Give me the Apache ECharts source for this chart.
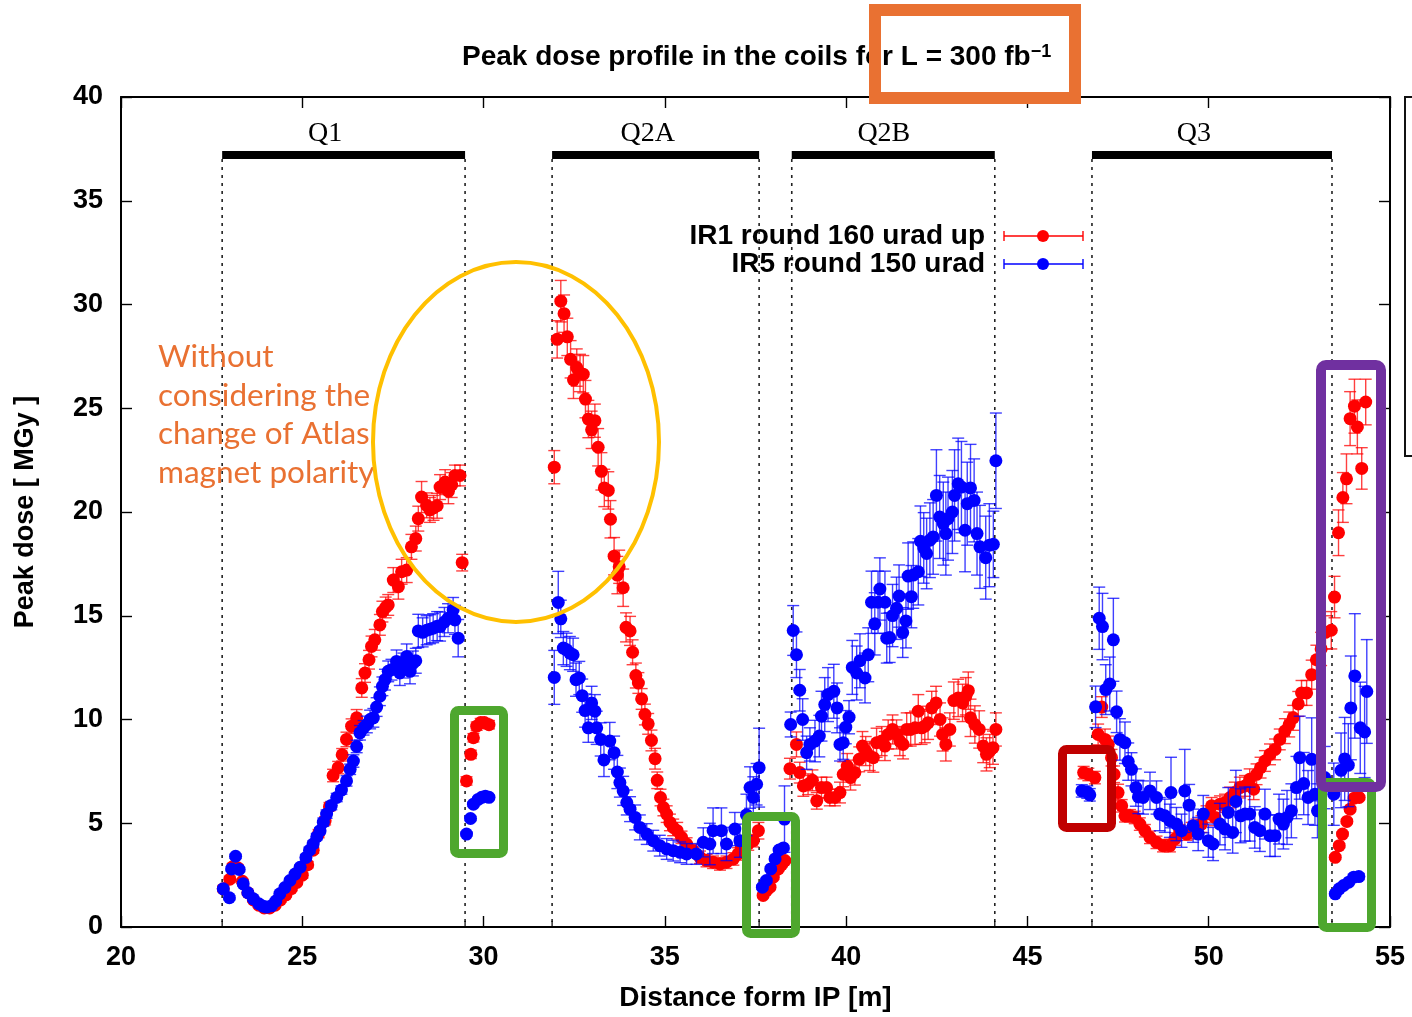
<!DOCTYPE html>
<html>
<head>
<meta charset="utf-8">
<script src="https://cdn.jsdelivr.net/npm/echarts@6/dist/echarts.min.js"></script>
<style>
  html, body { margin: 0; padding: 0; background: #fff; overflow: hidden; }
  #chart { width: 1412px; height: 1017px; }
</style>
</head>
<body>
<div id="chart"></div>
<script>
// magnet segments (m)
var magnetNames = ['Q1', 'Q2A', 'Q2B', 'Q3'];
var magnetStart = [22.79, 31.89, 38.5, 46.78];
var magnetEnd = [29.49, 37.6, 44.1, 53.4];
var magnetLabelX = [25.63, 34.53, 41.04, 49.59];

var xTicks = [20, 25, 30, 35, 40, 45, 50, 55];
var yTicks = [0, 5, 10, 15, 20, 25, 30, 35, 40];

// [distance, dose, error] - IR1 round 160 urad up
var ir1 = [
  [22.82,1.84,0.15],[23.0,2.3,0.15],[23.08,2.9,0.15],[23.22,2.85,0.15],[23.35,2.2,0.1],[23.5,1.65,0.1],
  [23.65,1.3,0.1],[23.8,1.05,0.1],[23.95,0.92,0.1],[24.1,0.92,0.1],[24.25,1.05,0.1],[24.4,1.3,0.1],
  [24.55,1.55,0.1],[24.7,1.85,0.1],[24.85,2.15,0.1],[25.0,2.5,0.15],[25.15,3.0,0.15],[25.3,3.7,0.15],
  [25.45,4.5,0.2],[25.63,5.12,0.2],[25.75,5.8,0.2],[25.85,7.3,0.3],[25.99,7.68,0.3],[26.1,8.3,0.3],
  [26.22,9.04,0.35],[26.36,9.68,0.35],[26.5,10.08,0.4],[26.64,11.52,0.45],[26.73,12.24,0.45],[26.84,12.88,0.45],
  [26.91,13.52,0.5],[27.0,13.84,0.5],[27.14,14.56,0.5],[27.21,15.2,0.5],[27.3,15.4,0.5],[27.37,15.52,0.5],
  [27.51,16.72,0.6],[27.65,16.4,0.6],[27.74,17.12,0.6],[27.88,17.2,0.6],[28.01,18.32,0.6],[28.13,18.72,0.6],
  [28.2,19.68,0.6],[28.29,20.72,0.75],[28.43,20.32,0.6],[28.52,20.1,0.6],[28.62,20.2,0.6],[28.72,20.3,0.6],
  [28.8,21.2,0.6],[28.94,21.44,0.6],[29.03,21.0,0.6],[29.12,21.3,0.6],[29.21,21.76,0.5],[29.35,21.76,0.5],
  [29.41,17.56,0.4],
  [29.53,7.04,0.2],[29.65,8.32,0.2],[29.72,9.12,0.2],[29.81,9.68,0.2],[29.92,9.85,0.2],[30.02,9.85,0.2],[30.15,9.75,0.2],
  [31.95,22.16,0.8],[32.03,28.32,0.9],[32.13,30.16,1.0],[32.22,29.56,0.9],[32.31,28.44,0.9],[32.4,27.36,0.9],
  [32.48,26.37,0.9],[32.57,26.96,0.9],[32.66,26.7,0.9],[32.75,26.64,0.9],[32.81,25.44,0.9],[32.89,24.48,0.9],
  [32.98,23.96,0.9],[33.07,24.4,0.8],[33.16,23.12,0.9],[33.25,21.96,0.9],[33.33,21.16,0.9],[33.44,21.04,0.9],
  [33.5,19.65,0.9],[33.6,17.87,0.9],[33.69,16.96,0.9],[33.74,17.36,0.8],[33.85,16.35,0.9],[33.93,14.44,0.7],
  [34.04,14.27,0.7],[34.11,13.24,0.6],[34.2,12.12,0.6],[34.27,11.76,0.5],[34.36,10.99,0.5],[34.45,10.24,0.5],
  [34.54,9.79,0.5],[34.63,8.99,0.5],[34.73,8.11,0.5],[34.79,7.07,0.4],[34.88,6.24,0.4],[34.96,5.76,0.4],
  [35.05,5.44,0.4],[35.14,5.04,0.4],[35.23,4.8,0.4],[35.34,4.64,0.4],[35.46,4.32,0.3],[35.6,4.0,0.3],
  [35.78,3.68,0.3],[35.97,3.36,0.3],[36.15,3.2,0.3],[36.33,3.12,0.3],[36.52,3.04,0.3],[36.7,3.12,0.3],
  [36.89,3.28,0.3],[37.02,3.52,0.3],[37.11,3.84,0.3],[37.3,4.0,0.3],[37.44,4.16,0.3],[37.58,4.64,0.4],
  [37.71,1.52,0.1],[37.8,1.75,0.1],[37.9,1.92,0.1],[37.99,2.4,0.1],[38.13,2.8,0.1],[38.22,3.0,0.1],[38.31,3.2,0.1],
  [38.45,7.63,0.5],[38.63,8.8,0.6],[38.72,7.44,0.5],[38.82,6.8,0.5],[38.95,6.88,0.5],[39.07,7.07,0.5],
  [39.19,6.08,0.4],[39.32,6.72,0.5],[39.46,6.72,0.5],[39.55,6.24,0.4],[39.69,6.24,0.4],[39.83,6.48,0.5],
  [39.92,7.36,0.6],[40.03,7.76,0.6],[40.12,7.2,0.6],[40.24,7.44,0.6],[40.36,8.08,0.6],[40.45,8.72,0.7],
  [40.54,8.48,0.7],[40.65,8.24,0.7],[40.75,8.16,0.7],[40.84,8.88,0.7],[40.98,8.96,0.7],[41.07,8.72,0.7],
  [41.16,9.28,0.7],[41.28,9.52,0.7],[41.39,9.28,0.7],[41.48,8.96,0.7],[41.57,8.8,0.7],[41.67,9.52,0.8],
  [41.78,9.52,0.8],[41.9,9.6,0.8],[41.99,10.4,0.8],[42.08,9.6,0.8],[42.17,9.68,0.8],[42.26,9.84,0.8],
  [42.36,10.56,0.8],[42.48,10.8,0.8],[42.59,10.0,0.8],[42.66,9.28,0.8],[42.75,8.8,0.8],[42.86,9.52,0.8],
  [42.97,10.91,0.9],[43.09,11.04,0.9],[43.21,10.8,0.9],[43.3,11.12,0.9],[43.37,11.39,0.9],[43.43,10.08,0.9],
  [43.55,9.76,0.9],[43.67,9.52,0.9],[43.78,8.72,0.8],[43.87,8.32,0.8],[43.96,8.48,0.8],[44.05,8.64,0.8],[44.13,9.52,0.8],
  [46.55,7.44,0.3],[46.68,7.35,0.3],[46.86,7.2,0.3],
  [46.95,9.28,0.5],[47.05,10.6,0.5],[47.14,9.04,0.5],[47.23,8.8,0.4],[47.32,8.16,0.4],[47.39,7.36,0.4],
  [47.5,6.48,0.4],[47.6,5.84,0.3],[47.69,5.36,0.3],[47.83,5.36,0.3],[47.96,5.28,0.3],[48.1,4.96,0.3],
  [48.24,4.64,0.3],[48.38,4.32,0.3],[48.56,4.08,0.3],[48.74,3.92,0.3],[48.93,3.92,0.3],[49.07,4.24,0.3],
  [49.2,4.64,0.3],[49.39,4.48,0.3],[49.53,4.64,0.4],[49.66,4.8,0.4],[49.8,4.96,0.4],[49.94,5.44,0.4],
  [50.08,5.84,0.4],[50.17,5.28,0.4],[50.31,5.92,0.4],[50.45,6.0,0.4],[50.59,6.24,0.5],[50.72,6.48,0.5],
  [50.86,6.72,0.5],[51.0,6.8,0.5],[51.13,7.12,0.5],[51.24,6.64,0.5],[51.32,7.36,0.5],[51.43,7.68,0.5],
  [51.55,8.0,0.5],[51.69,8.32,0.5],[51.83,8.56,0.5],[51.96,9.04,0.5],[52.1,9.44,0.6],[52.22,9.76,0.6],
  [52.33,10.08,0.6],[52.47,10.75,0.6],[52.56,11.28,0.6],[52.7,11.28,0.6],[52.84,12.16,0.7],[52.97,12.88,0.7],
  [53.1,13.4,0.8],[53.22,14.2,0.8],[53.38,14.3,0.9],[53.47,15.9,1.0],[53.58,19.0,1.1],[53.7,20.7,1.2],
  [53.8,21.6,1.2],[53.9,24.5,1.3],[54.02,25.1,1.3],[54.1,24.1,1.3],[54.22,22.1,1.0],[54.33,25.3,1.1],
  [53.49,3.36,0.1],[53.6,3.92,0.1],[53.69,4.48,0.1],[53.81,5.09,0.1],[53.9,5.68,0.1],[54.01,6.21,0.1],[54.15,6.24,0.1]
];

// [distance, dose, error] - IR5 round 150 urad
var ir5 = [
  [22.82,1.84,0.1],[22.99,1.41,0.1],[23.05,2.8,0.1],[23.16,3.41,0.1],[23.26,2.77,0.1],[23.37,2.08,0.1],
  [23.5,1.65,0.1],[23.65,1.36,0.1],[23.8,1.12,0.1],[23.92,1.0,0.1],[24.02,0.96,0.1],[24.15,1.02,0.1],
  [24.27,1.25,0.1],[24.38,1.6,0.1],[24.52,1.9,0.1],[24.66,2.24,0.1],[24.8,2.55,0.1],[24.94,2.88,0.1],
  [25.1,3.35,0.15],[25.2,3.7,0.15],[25.3,4.0,0.15],[25.4,4.35,0.15],[25.49,4.64,0.15],[25.58,5.05,0.2],
  [25.67,5.44,0.2],[25.8,5.85,0.2],[25.95,6.24,0.2],[26.08,6.6,0.2],[26.22,7.04,0.25],[26.32,7.6,0.25],
  [26.41,8.0,0.3],[26.5,8.7,0.3],[26.59,9.36,0.35],[26.69,9.6,0.35],[26.78,9.76,0.4],[26.87,10.0,0.45],
  [26.96,10.08,0.45],[27.05,10.6,0.45],[27.14,11.12,0.45],[27.21,11.6,0.45],[27.28,11.92,0.5],[27.37,12.32,0.5],
  [27.46,12.4,0.5],[27.6,12.8,0.55],[27.69,12.24,0.6],[27.79,12.6,0.6],[27.88,13.04,0.6],[27.97,12.32,0.6],
  [28.05,12.7,0.6],[28.13,12.83,0.6],[28.2,14.27,0.8],[28.32,14.2,0.7],[28.43,14.3,0.7],[28.52,14.35,0.7],
  [28.61,14.4,0.7],[28.72,14.5,0.7],[28.8,14.48,0.7],[28.92,14.7,0.7],[29.02,14.88,0.7],[29.16,15.28,0.6],
  [29.21,14.8,0.7],[29.3,13.92,0.9],
  [29.53,4.48,0.1],[29.64,5.23,0.1],[29.72,5.92,0.1],[29.85,6.15,0.1],[29.95,6.25,0.1],[30.05,6.3,0.1],[30.15,6.25,0.1],
  [31.95,12.03,1.3],[32.06,15.64,1.5],[32.13,14.85,0.9],[32.2,13.44,0.8],[32.29,13.36,0.8],[32.38,13.2,0.8],
  [32.47,13.12,0.8],[32.55,11.92,0.8],[32.64,12.0,0.8],[32.72,11.15,0.8],[32.8,10.43,0.8],[32.89,9.6,0.7],
  [32.98,10.8,0.8],[33.07,10.4,0.8],[33.12,9.6,0.8],[33.23,9.04,0.8],[33.32,8.05,0.8],[33.48,8.96,0.9],
  [33.6,8.4,0.8],[33.69,7.47,0.8],[33.76,6.96,0.7],[33.85,6.56,0.7],[33.95,6.0,0.6],[34.04,5.68,0.6],
  [34.18,5.28,0.6],[34.31,4.8,0.6],[34.5,4.48,0.5],[34.68,4.16,0.5],[34.86,3.92,0.5],[35.05,3.76,0.5],
  [35.23,3.68,0.5],[35.42,3.6,0.5],[35.6,3.52,0.5],[35.87,3.52,0.5],[36.06,4.08,0.7],[36.24,4.0,1.0],
  [36.33,4.64,1.1],[36.56,4.64,1.1],[36.7,4.0,0.8],[36.93,4.72,0.8],[37.07,4.16,0.8],[37.25,5.4,1.0],
  [37.35,6.72,1.0],[37.44,6.24,1.0],[37.53,6.88,1.0],[37.6,7.68,1.9],
  [37.69,1.92,0.1],[37.8,2.24,0.1],[37.92,2.8,0.1],[38.04,3.28,0.1],[38.15,3.71,0.1],[38.27,3.81,0.1],[38.3,5.2,1.6],
  [38.47,9.76,0.6],[38.54,14.29,1.2],[38.63,13.12,1.1],[38.72,11.41,1.0],[38.8,10.0,1.0],[38.91,8.4,0.8],
  [39.0,8.8,0.8],[39.14,8.96,1.0],[39.26,9.2,1.0],[39.32,10.16,1.2],[39.41,10.72,1.3],[39.5,11.2,1.3],
  [39.66,11.36,1.3],[39.75,10.56,1.2],[39.83,8.8,0.8],[39.92,8.88,0.8],[39.99,9.63,0.8],[40.08,10.11,0.8],
  [40.17,12.51,1.3],[40.29,12.24,1.3],[40.38,12.83,1.3],[40.52,12.0,1.2],[40.61,13.12,1.3],[40.7,15.65,1.5],
  [40.79,14.61,1.5],[40.88,15.65,1.5],[40.93,16.29,1.5],[41.07,15.65,1.5],[41.12,13.92,1.2],[41.2,13.95,1.2],
  [41.28,15.01,1.5],[41.39,15.36,1.5],[41.46,15.95,1.5],[41.56,14.19,1.2],[41.65,14.75,1.3],[41.71,16.91,1.6],
  [41.8,15.92,1.5],[41.85,16.96,1.6],[41.99,17.12,1.6],[42.05,18.59,1.7],[42.14,18.27,1.7],[42.22,18.0,1.7],
  [42.31,18.64,1.8],[42.4,18.8,1.8],[42.49,20.8,2.2],[42.58,19.76,2.0],[42.68,19.44,2.0],[42.75,18.96,2.0],
  [42.81,19.68,2.0],[42.93,20.0,2.0],[42.99,20.8,2.2],[43.09,21.36,2.2],[43.18,21.2,2.2],[43.28,19.12,2.0],
  [43.34,20.4,2.0],[43.43,21.16,2.1],[43.53,20.56,2.0],[43.61,18.96,2.0],[43.69,18.32,2.0],[43.85,17.8,2.0],
  [43.95,18.4,2.0],[44.06,18.44,1.6],[44.13,22.47,2.3],
  [46.5,6.56,0.3],[46.65,6.5,0.3],[46.72,6.37,0.3],
  [46.88,10.61,1.0],[46.98,14.88,1.5],[47.07,14.48,1.6],[47.16,11.44,1.2],[47.27,11.71,1.3],[47.37,13.84,2.0],
  [47.46,10.37,1.0],[47.55,9.04,1.0],[47.69,8.88,1.0],[47.78,7.97,0.9],[47.87,7.6,0.8],[47.99,6.72,0.9],
  [48.06,6.27,0.8],[48.19,6.24,0.8],[48.38,6.56,0.9],[48.56,6.24,0.8],[48.65,5.44,0.8],[48.79,5.36,0.8],
  [48.93,5.12,0.8],[48.96,6.48,1.7],[49.11,4.96,0.8],[49.25,4.64,0.8],[49.34,6.56,2.0],[49.46,5.87,1.0],
  [49.57,4.88,0.8],[49.71,4.48,0.8],[49.85,5.44,0.9],[49.99,4.16,0.8],[50.12,4.0,0.8],[50.31,4.96,1.0],
  [50.45,4.72,1.0],[50.54,5.52,1.2],[50.66,4.56,1.0],[50.75,6.05,1.5],[50.88,5.36,1.3],[51.0,5.44,1.3],
  [51.13,5.44,1.3],[51.27,4.8,1.0],[51.41,4.64,1.0],[51.55,5.44,1.2],[51.69,4.4,1.0],[51.83,4.4,1.0],
  [51.94,5.2,1.2],[52.06,4.96,1.2],[52.16,5.28,1.3],[52.28,5.6,1.3],[52.42,6.72,1.5],[52.51,8.16,2.0],
  [52.62,6.91,1.5],[52.74,6.24,1.3],[52.84,8.08,2.0],[52.93,6.4,1.5],[53.0,5.6,1.3],[53.2,7.2,1.5],
  [53.45,6.4,1.5],[53.65,7.55,1.8],[53.75,8.1,2.0],[53.85,7.8,2.0],[53.92,10.56,2.5],[54.03,12.1,3.0],
  [54.18,9.6,2.2],[54.3,9.4,2.2],[54.36,11.35,2.5],
  [53.49,1.6,0.1],[53.6,1.84,0.1],[53.72,2.0,0.1],[53.86,2.16,0.1],[54.0,2.4,0.15],[54.14,2.43,0.15]
];

var chart = echarts.init(document.getElementById('chart'));

function errorBars(color) {
  return function (params, api) {
    var x = api.value(0), y = api.value(1), e = api.value(2);
    var hi = api.coord([x, y + e]);
    var lo = api.coord([x, y - e]);
    var w = 6;
    var st = { stroke: color, lineWidth: 1.4, opacity: 0.75 };
    return {
      type: 'group',
      children: [
        { type: 'line', shape: { x1: hi[0], y1: hi[1], x2: lo[0], y2: lo[1] }, style: st },
        { type: 'line', shape: { x1: hi[0] - w, y1: hi[1], x2: hi[0] + w, y2: hi[1] }, style: st },
        { type: 'line', shape: { x1: lo[0] - w, y1: lo[1], x2: lo[0] + w, y2: lo[1] }, style: st }
      ]
    };
  };
}

function magnets(params, api) {
  var s = api.value(0), e = api.value(1), lx = api.value(2);
  var p0 = api.coord([s, 37.2]), p1 = api.coord([e, 37.2]);
  var b0 = api.coord([s, 0]), b1 = api.coord([e, 0]);
  var lab = api.coord([lx, 38.25]);
  var dot = { stroke: '#222', lineWidth: 1.6, lineDash: [3, 5] };
  var tick = { stroke: '#000', lineWidth: 1.2 };
  return {
    type: 'group',
    children: [
      { type: 'rect', shape: { x: p0[0], y: p0[1] - 4, width: p1[0] - p0[0], height: 8 }, style: { fill: '#000' } },
      { type: 'line', shape: { x1: p0[0], y1: p0[1] + 4, x2: b0[0], y2: b0[1] }, style: dot },
      { type: 'line', shape: { x1: p1[0], y1: p1[1] + 4, x2: b1[0], y2: b1[1] }, style: dot },
      { type: 'line', shape: { x1: b0[0], y1: b0[1], x2: b0[0], y2: b0[1] - 6 }, style: tick },
      { type: 'line', shape: { x1: b1[0], y1: b1[1], x2: b1[0], y2: b1[1] - 6 }, style: tick },
      { type: 'text', x: lab[0], y: lab[1], style: { text: magnetNames[params.dataIndex], fill: '#000',
        font: '28px "Liberation Serif"', align: 'center', verticalAlign: 'middle' } }
    ]
  };
}

function xAx(pos, show) {
  return {
    type: 'value', position: pos, min: xTicks[0], max: xTicks[xTicks.length - 1], interval: 5,
    axisLine: { show: true, onZero: false, lineStyle: { color: '#000', width: 2 } },
    axisTick: { show: true, inside: true, length: 11, lineStyle: { color: '#000', width: 1.4 } },
    axisLabel: { show: show, fontSize: 27, margin: 17, fontFamily: 'Liberation Sans', fontWeight: 'bold', color: '#000' },
    splitLine: { show: false },
    name: show ? 'Distance form IP [m]' : '', nameLocation: 'middle', nameGap: 57,
    nameTextStyle: { fontSize: 28, fontFamily: 'Liberation Sans', fontWeight: 'bold', color: '#000' }
  };
}

function yAx(pos, show) {
  return {
    type: 'value', position: pos, min: yTicks[0], max: yTicks[yTicks.length - 1], interval: 5,
    axisLine: { show: true, onZero: false, lineStyle: { color: '#000', width: 2 } },
    axisTick: { show: true, inside: true, length: 11, lineStyle: { color: '#000', width: 1.4 } },
    axisLabel: { show: show, fontSize: 27, margin: 18, fontFamily: 'Liberation Sans', fontWeight: 'bold', color: '#000' },
    splitLine: { show: false },
    name: show ? 'Peak dose [ MGy ]' : '', nameLocation: 'middle', nameGap: 82, nameRotate: 90,
    nameTextStyle: { fontSize: 27, fontFamily: 'Liberation Sans', fontWeight: 'bold', color: '#000' }
  };
}

function legendRow(y, label, color) {
  var st = { stroke: color, lineWidth: 1.4 };
  return [
    { type: 'text', x: 985, y: y, style: { text: label, fill: '#000', font: 'bold 28px "Liberation Sans"', align: 'right', verticalAlign: 'middle' } },
    { type: 'line', shape: { x1: 1004, y1: y, x2: 1083, y2: y }, style: st },
    { type: 'line', shape: { x1: 1004, y1: y - 5, x2: 1004, y2: y + 5 }, style: st },
    { type: 'line', shape: { x1: 1083, y1: y - 5, x2: 1083, y2: y + 5 }, style: st },
    { type: 'circle', shape: { cx: 1043, cy: y, r: 6 }, style: { fill: color } }
  ];
}

var option = {
  backgroundColor: '#fff',
  animation: false,
  title: {
    text: 'Peak dose profile in the coils for L = 300 fb{sup|−1}',
    left: 457, top: 38,
    textStyle: {
      fontFamily: 'Liberation Sans', fontWeight: 'bold', fontSize: 28, color: '#000',
      rich: { sup: { fontFamily: 'Liberation Sans', fontWeight: 'bold', fontSize: 18, color: '#000', verticalAlign: 'top' } }
    }
  },
  grid: { left: 121, width: 1269, top: 97, height: 833 },
  xAxis: [xAx('bottom', true), xAx('top', false)],
  yAxis: [yAx('left', true), yAx('right', false)],
  series: [
    {
      type: 'custom', name: 'magnets', silent: true, z: 1,
      data: magnetNames.map(function (n, i) { return [magnetStart[i], magnetEnd[i], magnetLabelX[i]]; }),
      renderItem: magnets
    },
    { type: 'custom', name: 'ir1err', silent: true, z: 2, data: ir1, encode: { x: 0, y: 1 }, renderItem: errorBars('#ff0000') },
    { type: 'scatter', name: 'IR1 round 160 urad up', z: 3, data: ir1, symbolSize: 13, itemStyle: { color: '#ff0000', opacity: 1 } },
    { type: 'custom', name: 'ir5err', silent: true, z: 4, data: ir5, encode: { x: 0, y: 1 }, renderItem: errorBars('#0000ff') },
    { type: 'scatter', name: 'IR5 round 150 urad', z: 5, data: ir5, symbolSize: 13, itemStyle: { color: '#0000ff', opacity: 1 } }
  ],
  graphic: [
    { type: 'group', z: 50, children: legendRow(236, 'IR1 round 160 urad up', '#ff0000').concat(legendRow(264, 'IR5 round 150 urad', '#0000ff')) },
    { type: 'text', z: 60, left: 158, top: 338, style: { text: 'Without\nconsidering the\nchange of Atlas\nmagnet polarity',
      fill: '#E97132', font: '31.5px Lato', lineHeight: 38.5 } },
    { type: 'ellipse', z: 60, shape: { cx: 516, cy: 442, rx: 143, ry: 180 }, style: { fill: 'none', stroke: '#FFC000', lineWidth: 4 } },
    { type: 'rect', z: 60, shape: { x: 454.5, y: 710.5, width: 49, height: 143, r: 4 }, style: { fill: 'none', stroke: '#4EA72E', lineWidth: 9 } },
    { type: 'rect', z: 60, shape: { x: 746.5, y: 816.5, width: 49, height: 117, r: 4 }, style: { fill: 'none', stroke: '#4EA72E', lineWidth: 9 } },
    { type: 'rect', z: 60, shape: { x: 1322.5, y: 782.5, width: 49, height: 145, r: 4 }, style: { fill: 'none', stroke: '#4EA72E', lineWidth: 9 } },
    { type: 'rect', z: 61, shape: { x: 1321, y: 365, width: 60, height: 422, r: 5 }, style: { fill: 'none', stroke: '#7030A0', lineWidth: 10 } },
    { type: 'rect', z: 60, shape: { x: 1062.5, y: 749.5, width: 49, height: 78, r: 4 }, style: { fill: 'none', stroke: '#C00000', lineWidth: 9 } },
    { type: 'rect', z: 60, shape: { x: 875, y: 10, width: 200, height: 88 }, style: { fill: 'none', stroke: '#E97132', lineWidth: 12 } },
    { type: 'rect', z: 60, shape: { x: 1405, y: 97, width: 40, height: 359 }, style: { fill: 'none', stroke: '#111', lineWidth: 2 } }
  ]
};

chart.setOption(option);
</script>
</body>
</html>
